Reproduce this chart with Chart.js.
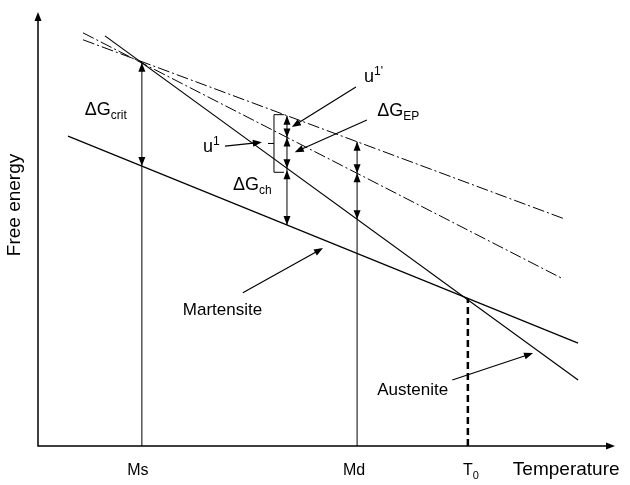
<!DOCTYPE html>
<html>
<head>
<meta charset="utf-8">
<script src="https://cdn.jsdelivr.net/npm/chart.js@4.4.1/dist/chart.umd.min.js"></script>
<style>
  html, body { margin: 0; padding: 0; background: #fff; }
  #wrap { width: 630px; height: 485px; position: relative; }
</style>
</head>
<body>
<div id="wrap"><canvas id="energyChart"></canvas></div>
<script>
// temperature marks on the x axis
const tempLabels = ["Ms", "Md", "T0"];
const tempMarks = [18.0, 55.3, 74.5];

// free energy lines as end points (temperature, energy)
const austeniteT = [11.6, 93.6];
const austeniteG = [94.5, 15.2];
const martensiteT = [5.2, 93.6];
const martensiteG = [71.4, 23.7];
const upperDashT = [7.8, 91.3];   // shallow dash-dot line
const upperDashG = [93.6, 52.3];
const lowerDashT = [7.8, 91.0];   // steeper dash-dot line
const lowerDashG = [95.2, 38.5];

// temperature where the energy gaps are shown
const gapT = 43.15;

const FONT = '"Liberation Sans", Arial, sans-serif';

function toPoints(ts, gs) {
  return ts.map((t, i) => ({ x: t, y: gs[i] }));
}

// value of a straight line at temperature t
function valueAt(ts, gs, t) {
  const k = (gs[1] - gs[0]) / (ts[1] - ts[0]);
  return gs[0] + (t - ts[0]) * k;
}

const [Ms, Md, T0] = tempMarks;

const gA = valueAt(upperDashT, upperDashG, gapT);
const gB = valueAt(lowerDashT, lowerDashG, gapT);
const gAus = valueAt(austeniteT, austeniteG, gapT);
const gMar = valueAt(martensiteT, martensiteG, gapT);

function line(data, opts) {
  return Object.assign({
    data: data,
    showLine: true,
    borderColor: "#000",
    borderWidth: 1.2,
    pointRadius: 0,
    fill: false,
    tension: 0
  }, opts || {});
}

function head(ctx, x, y, ang) {
  const len = 9, w = 3.5;
  const bx = x - len * Math.cos(ang), by = y - len * Math.sin(ang);
  const px = -Math.sin(ang) * w, py = Math.cos(ang) * w;
  ctx.beginPath();
  ctx.moveTo(x, y);
  ctx.lineTo(bx + px, by + py);
  ctx.lineTo(bx - px, by - py);
  ctx.closePath();
  ctx.fill();
}

// text made of parts: [text, size, shift]
function rich(ctx, x, y, parts, align) {
  let w = 0;
  parts.forEach(p => { ctx.font = p[1] + "px " + FONT; w += ctx.measureText(p[0]).width; });
  let cx = align === "center" ? x - w / 2 : x;
  ctx.textAlign = "left";
  ctx.textBaseline = "alphabetic";
  parts.forEach(p => {
    ctx.font = p[1] + "px " + FONT;
    ctx.fillText(p[0], cx, y + p[2]);
    cx += ctx.measureText(p[0]).width;
  });
}

const drawExtras = {
  id: "drawExtras",
  afterDraw(chart) {
    const ctx = chart.ctx;
    const xs = chart.scales.x, ys = chart.scales.y;
    const X = v => xs.getPixelForValue(v);
    const Y = v => ys.getPixelForValue(v);
    const area = chart.chartArea;
    ctx.save();
    ctx.fillStyle = "#000";
    ctx.strokeStyle = "#000";

    // axes with arrows
    ctx.lineWidth = 1.5;
    ctx.beginPath();
    ctx.moveTo(area.left, area.top + 4);
    ctx.lineTo(area.left, area.bottom);
    ctx.lineTo(area.right - 4, area.bottom);
    ctx.stroke();
    head(ctx, area.left, area.top, -Math.PI / 2);
    head(ctx, area.right, area.bottom, 0);

    const up = -Math.PI / 2, down = Math.PI / 2;

    // Ms: critical driving force
    head(ctx, X(Ms), Y(valueAt(austeniteT, austeniteG, Ms)), up);
    head(ctx, X(Ms), Y(valueAt(martensiteT, martensiteG, Ms)), down);

    // Md gaps
    const mA = valueAt(upperDashT, upperDashG, Md);
    const mB = valueAt(lowerDashT, lowerDashG, Md);
    const mAus = valueAt(austeniteT, austeniteG, Md);
    head(ctx, X(Md), Y(mA), up);
    head(ctx, X(Md), Y(mB), down);
    head(ctx, X(Md), Y(mB), up);
    head(ctx, X(Md), Y(mAus), down);

    // gaps at the bracket
    const gx = X(gapT);
    head(ctx, gx, Y(gA), up);
    head(ctx, gx, Y(gB), down);
    head(ctx, gx, Y(gB), up);
    head(ctx, gx, Y(gAus), down);
    head(ctx, gx, Y(gAus) + 2, up);
    head(ctx, gx, Y(gMar), down);

    // bracket for u1
    ctx.lineWidth = 1;
    const bx = gx - 13, bt = Y(gA) - 1, bb = Y(gAus) + 4, bm = (bt + bb) / 2;
    ctx.beginPath();
    ctx.moveTo(bx + 10, bt);
    ctx.lineTo(bx, bt);
    ctx.lineTo(bx, bb);
    ctx.lineTo(bx + 10, bb);
    ctx.moveTo(bx, bm);
    ctx.lineTo(bx - 6, bm);
    ctx.stroke();

    // pointer arrows [fromT, fromG, toT, toG]
    const pointers = [
      [32.4, 69.1, 38.8, 70.0],
      [55.1, 82.7, 44.0, 73.5],
      [57.0, 75.1, 44.5, 67.7],
      [35.5, 35.3, 49.4, 45.6],
      [71.8, 15.2, 85.8, 21.4]
    ];
    ctx.lineWidth = 1.2;
    pointers.forEach(p => {
      const x1 = X(p[0]), y1 = Y(p[1]), x2 = X(p[2]), y2 = Y(p[3]);
      const ang = Math.atan2(y2 - y1, x2 - x1);
      ctx.beginPath();
      ctx.moveTo(x1, y1);
      ctx.lineTo(x2 - 6 * Math.cos(ang), y2 - 6 * Math.sin(ang));
      ctx.stroke();
      head(ctx, x2, y2, ang);
    });

    // labels
    rich(ctx, X(8.1), Y(76.3), [["\u0394G", 18, 0], ["crit", 12, 4]]);
    rich(ctx, X(33.8), Y(59.0), [["\u0394G", 18, 0], ["ch", 12, 4]]);
    rich(ctx, X(28.6), Y(67.7), [["u", 18, 0], ["1", 12, -7]]);
    rich(ctx, X(56.5), Y(83.9), [["u", 18, 0], ["1'", 12, -7]]);
    rich(ctx, X(58.8), Y(76.0), [["\u0394G", 18, 0], ["EP", 12, 4]]);
    rich(ctx, X(25.1), Y(30.2), [["Martensite", 17, 0]]);
    rich(ctx, X(58.8), Y(11.8), [["Austenite", 17, 0]]);

    // x tick labels
    const tickY = area.bottom + 29;
    rich(ctx, X(Ms) - 4, tickY, [[tempLabels[0], 16, 0]], "center");
    rich(ctx, X(Md) - 3, tickY, [[tempLabels[1], 16, 0]], "center");
    rich(ctx, X(T0) + 3, tickY, [[tempLabels[2][0], 16, 0], [tempLabels[2][1], 11, 4]], "center");

    // axis titles
    rich(ctx, X(82.3), tickY, [["Temperature", 19, 0]]);
    ctx.translate(15, 205);
    ctx.rotate(-Math.PI / 2);
    ctx.font = "19px " + FONT;
    ctx.textAlign = "center";
    ctx.textBaseline = "middle";
    ctx.fillText("Free energy", 0, 0);

    ctx.restore();
  }
};

new Chart(document.getElementById("energyChart"), {
  type: "scatter",
  data: {
    datasets: [
      line(toPoints(austeniteT, austeniteG)),
      line(toPoints(martensiteT, martensiteG)),
      line(toPoints(upperDashT, upperDashG), { borderWidth: 1, borderDash: [12, 3, 2, 3] }),
      line(toPoints(lowerDashT, lowerDashG), { borderWidth: 1, borderDash: [12, 3, 2, 3] }),
      line([{ x: Ms, y: 0 }, { x: Ms, y: valueAt(austeniteT, austeniteG, Ms) }], { borderWidth: 1 }),
      line([{ x: Md, y: 0 }, { x: Md, y: valueAt(upperDashT, upperDashG, Md) }], { borderWidth: 1 }),
      line([{ x: T0, y: 0 }, { x: T0, y: valueAt(martensiteT, martensiteG, T0) }], { borderWidth: 2.5, borderDash: [7, 4] }),
      line([{ x: gapT, y: gMar }, { x: gapT, y: gA }], { borderWidth: 1 })
    ]
  },
  options: {
    responsive: true,
    maintainAspectRatio: false,
    animation: false,
    layout: { padding: { left: 38, top: 12, right: 15, bottom: 39 } },
    plugins: { legend: { display: false }, tooltip: { enabled: false } },
    scales: {
      x: { type: "linear", min: 0, max: 100, display: false },
      y: { type: "linear", min: 0, max: 100, display: false }
    }
  },
  plugins: [drawExtras]
});
</script>
</body>
</html>
